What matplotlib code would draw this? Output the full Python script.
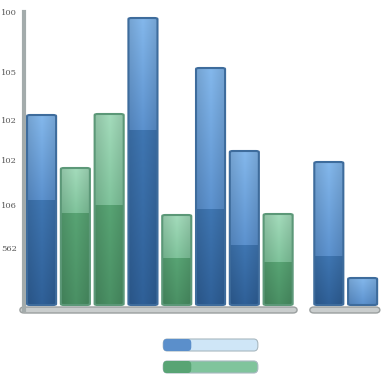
import numpy as np
import matplotlib.pyplot as plt
from matplotlib.patches import FancyBboxPatch
from matplotlib.colors import LinearSegmentedColormap

# values (baseline = 0)
positions = [0, 1, 2, 3, 4, 5, 6, 7, 8.5, 9.5]
totals = [190, 137, 191, 287, 90, 237, 154, 91, 143, 27]
lower = [105, 92, 100, 175, 47, 96, 60, 43, 49, 0]
series = ['b', 'g', 'g', 'b', 'g', 'b', 'b', 'g', 'b', 'b']

tick_vals = [293, 233, 185, 145, 100, 57]
tick_labels = ['100', '105', '102', '102', '106', '562']

# (dark bottom, dark top, light bottom, light top, edge)
colors = {
    'b': ('#2f6098', '#3f76b2', '#5c92cf', '#84b8ec', '#3e6c9c'),
    'g': ('#4a9064', '#58a474', '#80c49c', '#a4dcbc', '#5c9878'),
}

fig = plt.figure(figsize=(3.84, 3.84), dpi=100)
ax = fig.add_axes([24 / 384, 0, 1 - 24 / 384, 1])

w = 0.86
grad = np.linspace(0, 1, 64).reshape(-1, 1)
# slight horizontal shading across each bar
shade = 1 - 0.12 * np.abs(np.linspace(-1, 1, 32))


def fill_segment(x, y0, y1, c0, c1, clip):
    cmap = LinearSegmentedColormap.from_list('seg', [c0, c1])
    rgb = cmap(grad)[:, :, :3] * shade[None, :, None] + (1 - shade[None, :, None]) * 0.0
    im = ax.imshow(rgb, extent=[x - w / 2, x + w / 2, y0, y1], origin='lower',
                   aspect='auto', zorder=2, interpolation='bilinear')
    im.set_clip_path(clip)


for x, tot, lo, s in zip(positions, totals, lower, series):
    d0, d1, l0, l1, edge = colors[s]
    outline = FancyBboxPatch((x - w / 2, 0), w, tot,
                             boxstyle='round,pad=0,rounding_size=0.09',
                             mutation_aspect=12, fc='none', ec=edge,
                             lw=1.5, zorder=4)
    ax.add_patch(outline)
    if lo > 0:
        fill_segment(x, 0, lo, d0, d1, outline)
    fill_segment(x, lo, tot, l0, l1, outline)

# grey platform under the bars (two segments)
for x0, x1 in [(-0.64, 7.56), (7.94, 10.01)]:
    ax.add_patch(FancyBboxPatch((x0, -8), x1 - x0, 6,
                                boxstyle='round,pad=0,rounding_size=0.12',
                                mutation_aspect=25, fc='#c9cdcd', ec='#9a9f9f',
                                lw=1.0, zorder=1, clip_on=False))

# legend swatches
for ly, s in [(-40, 'b'), (-62, 'g')]:
    d0, d1, l0, l1, edge = colors[s]
    ax.add_patch(FancyBboxPatch((3.6, ly - 6), 2.8, 12,
                                boxstyle='round,pad=0,rounding_size=0.12',
                                mutation_aspect=40,
                                fc='#cfe6f7' if s == 'b' else l0,
                                ec='#a8b8c0', lw=0.8, zorder=2))
    ax.add_patch(FancyBboxPatch((3.6, ly - 6), 0.83, 12,
                                boxstyle='round,pad=0,rounding_size=0.1',
                                mutation_aspect=40,
                                fc='#5b8fcb' if s == 'b' else d1,
                                ec='none', zorder=3))

ax.set_xlim(-0.52, 10.133)
ax.set_ylim(-79, 305)
for sp in ['top', 'right', 'bottom']:
    ax.spines[sp].set_visible(False)
ax.spines['left'].set_bounds(-5, 293)
ax.spines['left'].set_color('#a3abab')
ax.spines['left'].set_linewidth(3)
ax.set_xticks([])
ax.set_yticks(tick_vals)
ax.set_yticklabels(tick_labels, fontsize=6, color='#555555', family='DejaVu Serif')
ax.tick_params(axis='y', length=0, pad=5)

fig.savefig('out.png', dpi=100)
